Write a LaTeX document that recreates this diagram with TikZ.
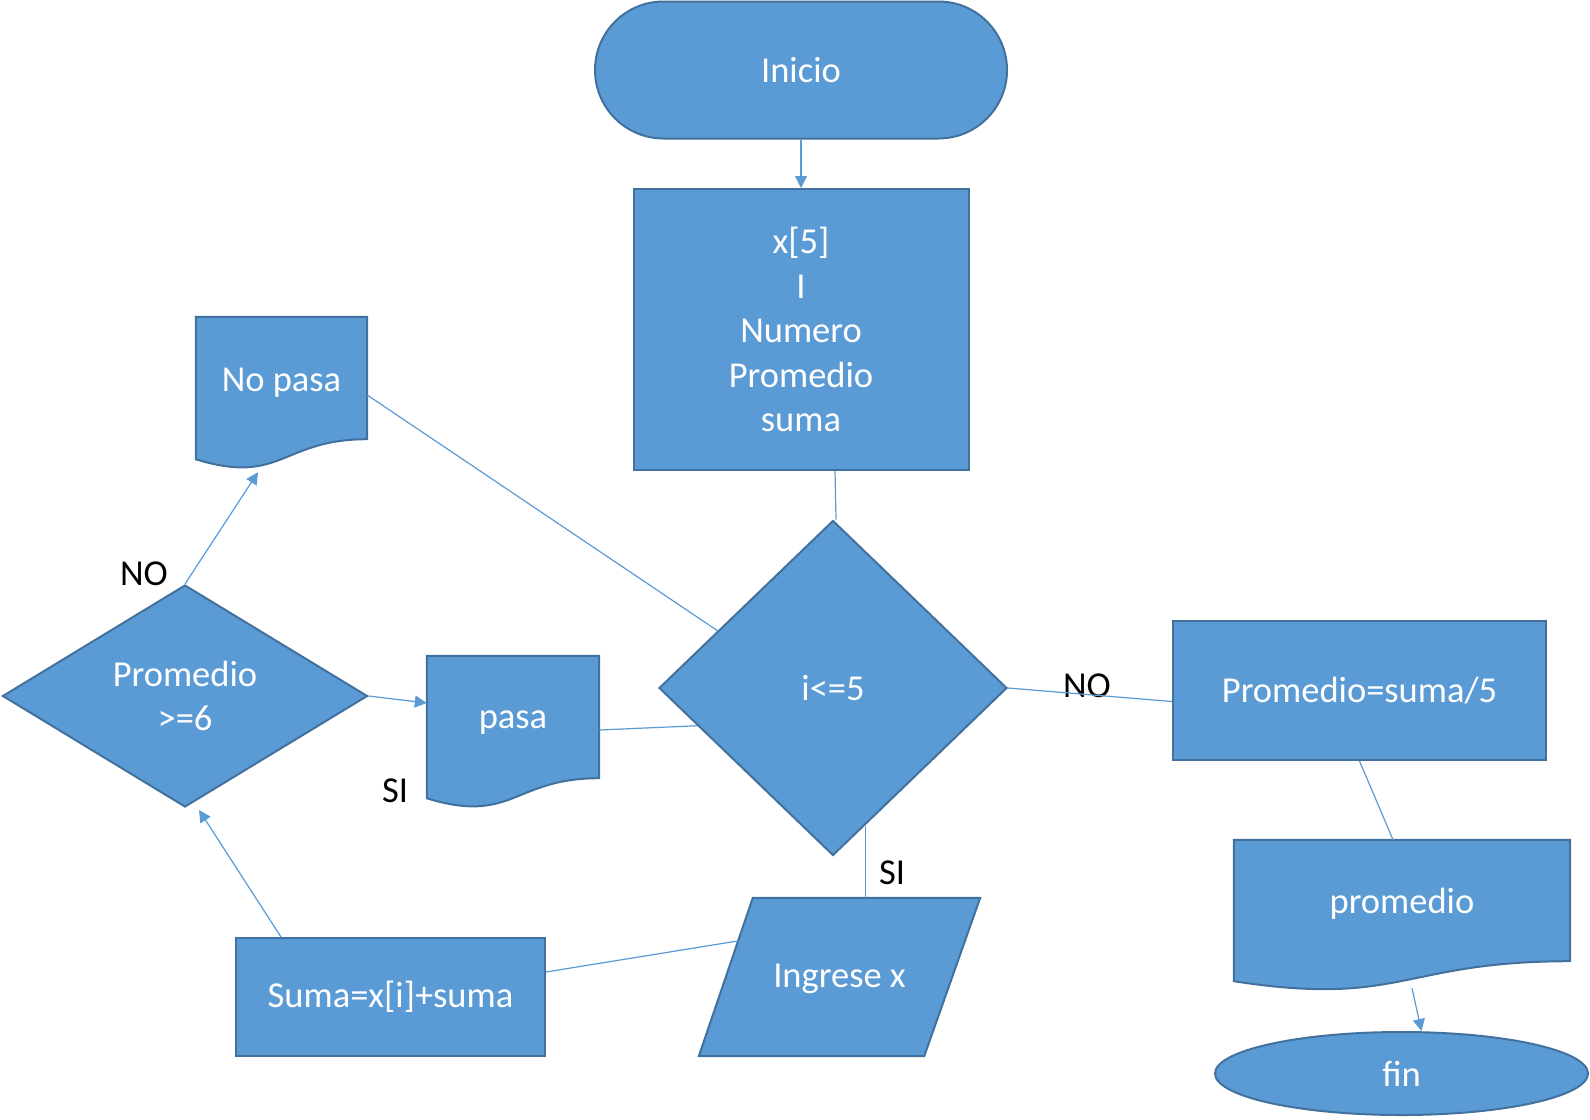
\documentclass[tikz,border=0pt]{standalone}
\usepackage{fontspec}
\setmainfont{Carlito}
\usetikzlibrary{shapes.geometric,shapes.misc,arrows.meta,calc,backgrounds}
\definecolor{ofill}{HTML}{5B9BD5}
\definecolor{oborder}{HTML}{41719C}
\tikzset{
  base/.style={fill=ofill,draw=oborder,line width=2pt,text=white,inner sep=0pt,
    font=\fontsize{36.5}{44.5}\selectfont,align=center},
  term/.style={base,rounded rectangle},
  procbox/.style={base,rectangle},
  decbox/.style={base,diamond},
  endbox/.style={base,ellipse},
  area/.style={rectangle,inner sep=0pt},
  areatext/.style={text=white,inner sep=0pt,font=\fontsize{36.5}{44.5}\selectfont,align=center},
  flatshape/.style={fill=ofill,draw=oborder,line width=2pt},
  lbl/.style={text=black,font=\fontsize{36.5}{44.5}\selectfont,inner sep=0pt},
  conn/.style={draw=ofill,line width=1.2pt},
  arr/.style={conn,-{Triangle[length=12pt,width=12pt]}}
}
\begin{document}
\begin{tikzpicture}[x=1pt,y=-1pt]
\useasboundingbox (0,0) rectangle (1590,1119);
\begin{scope}[on background layer]
\fill[white] (0,0) rectangle (1590,1119);
\end{scope}
% shapes
\node[term,minimum width=412,minimum height=137] (inicio) at (801,70) {Inicio};
\node[procbox,minimum width=335,minimum height=281] (vars) at (801,329.5) {x[5]\\I\\Numero\\Promedio\\suma};
\node[decbox,shape aspect=1,minimum width=348,minimum height=335] (cond) at (833,688) {i<=5};
\node[decbox,shape aspect=1.6,minimum width=365,minimum height=222] (prom6) at (185,696) {Promedio\\>=6};
\node[procbox,minimum width=373,minimum height=139] (divide) at (1359.5,690.5) {Promedio=suma/5};
\node[procbox,minimum width=309,minimum height=118] (suma) at (390.5,997) {Suma=x[i]+suma};
\node[endbox,minimum width=373,minimum height=83] (fin) at (1401.5,1073.5) {fin};
% drawn shapes (document and data)
\node[area,minimum width=171,minimum height=122] (nopasa) at (281.5,378) {};
\node[area,minimum width=172,minimum height=122] (pasa) at (513,717) {};
\node[area,minimum width=336,minimum height=121] (promdoc) at (1402,900.5) {};
\node[area,minimum width=281,minimum height=158] (ing) at (839.5,977) {};
\coordinate (ingTL) at ([xshift=54pt]ing.north west);
\coordinate (ingBR) at ([xshift=-56pt]ing.south east);
\begin{scope}[on background layer]
\draw[flatshape] (nopasa.north west) -- (nopasa.north east) -- (nopasa.south east)
  .. controls (nopasa.south) and ($(nopasa.south)+(0,46.4)$) .. ($(nopasa.south west)+(0,20.1)$) -- cycle;
\draw[flatshape] (pasa.north west) -- (pasa.north east) -- (pasa.south east)
  .. controls (pasa.south) and ($(pasa.south)+(0,46.4)$) .. ($(pasa.south west)+(0,20.1)$) -- cycle;
\draw[flatshape] (promdoc.north west) -- (promdoc.north east) -- (promdoc.south east)
  .. controls (promdoc.south) and ($(promdoc.south)+(0,46)$) .. ($(promdoc.south west)+(0,20)$) -- cycle;
\draw[flatshape] (ing.south west) -- (ingTL) -- (ing.north east) -- (ingBR) -- cycle;
\end{scope}
\node[areatext] (nopasaT) at ([yshift=-5pt]nopasa.center) {No pasa};
\node[areatext] (pasaT) at ([yshift=-6pt]pasa.center) {pasa};
\node[areatext] (promdocT) at ([yshift=-3pt]promdoc.center) {promedio};
\node[areatext] (ingT) at ([yshift=-2pt]ing.center) {Ingrese x};
% labels
\node[lbl] (no1) at (144,574) {NO};
\node[lbl] (si1) at (395,791) {SI};
\node[lbl] (no2) at (1087,686) {NO};
\node[lbl] (si2) at (892,873) {SI};
% connectors
\draw[arr] (inicio.south) -- (vars.north);
\draw[conn] ([xshift=2pt]vars.south -| cond.north) -- ([xshift=3pt]cond.north);
\draw[conn] ([yshift=-17pt]nopasa.east) -- ($(cond.west)!0.34!(cond.north)$);
\draw[arr] (prom6.north) -- ([xshift=-23.5pt,yshift=-33pt]nopasa.south);
\draw[arr] (prom6.east) -- ([yshift=14pt]pasa.west);
\draw[conn] ([yshift=-13pt]pasa.east) -- ($(cond.west)!0.224!(cond.south)$);
\draw[conn] (cond.east) -- ([yshift=-11pt]divide.west);
\draw[conn] (divide.south) -- ([xshift=-9pt]promdoc.north);
\draw[arr] ([xshift=10pt,yshift=-27pt]promdoc.south) -- ([xshift=20pt]fin.north);
\coordinate (c1) at ($(cond.south)!0.184!(cond.east)$);
\draw[conn] (c1) -- (c1 |- ing.north);
\draw[conn] ($(ing.south west)!0.728!(ingTL)$) -- ([yshift=25pt]suma.east);
\draw[arr] ([xshift=-109.5pt]suma.north) -- ([xshift=14pt,yshift=-2pt]prom6.south);
\end{tikzpicture}
\end{document}
